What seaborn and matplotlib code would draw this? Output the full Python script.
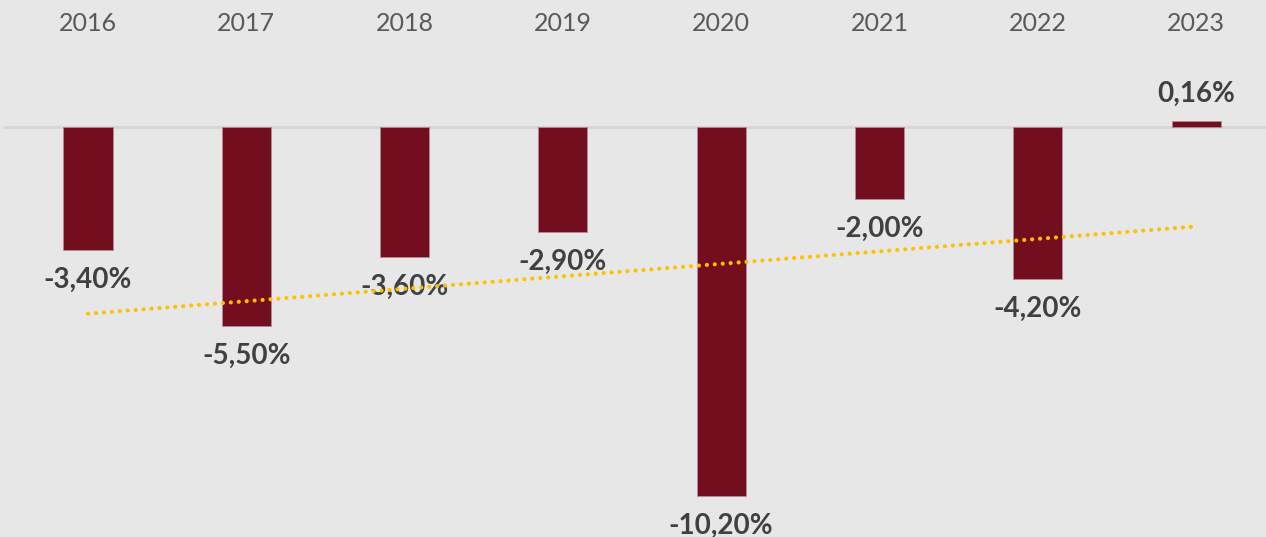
import numpy as np
import pandas as pd
import matplotlib
matplotlib.use('Agg')
import matplotlib.pyplot as plt
import seaborn as sns

# datos
anios = ['2016', '2017', '2018', '2019', '2020', '2021', '2022', '2023']
variacion = [-3.40, -5.50, -3.60, -2.90, -10.20, -2.00, -4.20, 0.16]

df = pd.DataFrame({'Anio': anios, 'Variacion': variacion})

fondo = '#e7e7e7'
sns.set_style('white', {'axes.facecolor': fondo, 'figure.facecolor': fondo})
plt.rcParams['font.family'] = ['Lato', 'DejaVu Sans']

fig = plt.figure(figsize=(12.66, 5.37), dpi=100)
ax = fig.add_axes([0, 0, 1, 497 / 537])

sns.barplot(data=df, x='Anio', y='Variacion', color='#730e1f', width=0.31,
            saturation=1, edgecolor='#b58a92', linewidth=0.6, ax=ax, zorder=3)

# linea de cero
ax.axhline(0, color='#d6d6d6', linewidth=2, zorder=2, xmin=0.003)

# tendencia lineal
sns.regplot(x=np.arange(len(anios)), y=variacion, ci=None, scatter=False, ax=ax,
            line_kws=dict(color='#ffc000', linewidth=3, linestyle=(0, (0.01, 1.9)),
                          dash_capstyle='round', zorder=4))

# etiquetas de datos
etiquetas = [f"{v:.2f}".replace('.', ',') + '%' for v in variacion]
neg = [e if v < 0 else '' for e, v in zip(etiquetas, variacion)]
pos = [e if v >= 0 else '' for e, v in zip(etiquetas, variacion)]
cont = ax.containers[0]
ax.bar_label(cont, labels=neg, padding=12, fontsize=20, fontweight='bold', color='#404040')
ax.bar_label(cont, labels=pos, padding=10, fontsize=20, fontweight='bold', color='#404040')

ax.set_xlim(-0.556, 7.442)
ax.set_ylim(-11.33, 2.40)
ax.xaxis.tick_top()
ax.tick_params(axis='x', length=0, pad=3.5, labelsize=18, labelcolor='#595959')
ax.set_yticks([])
ax.set_xlabel('')
ax.set_ylabel('')
sns.despine(ax=ax, left=True, bottom=True, top=True, right=True)

plt.savefig('out.png', dpi=100, facecolor=fondo)
